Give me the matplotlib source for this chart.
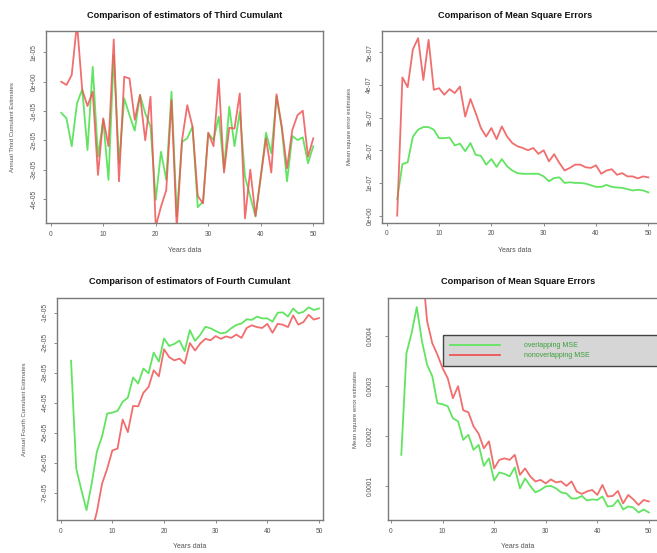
import numpy as np
import matplotlib
matplotlib.use("Agg")
import matplotlib.pyplot as plt
from matplotlib.lines import Line2D

plt.rcParams["font.family"] = ["Liberation Sans", "DejaVu Sans"]

# ============================================================
# data (x = years of data, 2..50)
# ============================================================
years = np.arange(2, 51)

# third cumulant estimates (units of 1e-5)
k3_overlap = [-1.06, -1.25, -2.2, -0.74, -0.26, -2.33, 0.51, -2.56, -1.3, -3.35,
              0.9, -2.78, -0.57, -1.14, -1.67, -0.45, -1.08, -1.53, -4.03, -2.39,
              -3.35, -0.34, -4.6, -2.05, -1.93, -1.53, -4.28, -4.09, -1.76, -1.99,
              -1.19, -3.0, -0.85, -2.2, -1.02, -3.24, -3.92, -4.6, -3.24, -1.74,
              -2.44, -0.51, -1.6, -3.4, -1.85, -1.99, -1.9, -2.78, -2.2]
k3_nonoverlap = [0.0, -0.11, 0.23, 2.0, -0.28, -0.83, -0.34, -3.18, -1.25, -2.2,
                 1.44, -3.4, 0.17, 0.11, -1.3, -0.45, -2.0, -0.51, -4.94, -4.26,
                 -3.7, -0.63, -5.0, -2.0, -0.8, -1.53, -3.9, -4.15, -1.74, -2.2,
                 0.08, -3.1, -1.57, -1.6, -0.4, -4.66, -3.0, -4.58, -3.24, -1.93,
                 -3.1, -0.43, -1.53, -2.95, -1.65, -1.14, -0.99, -2.56, -1.93]

# MSE of third cumulant estimators (units of 1e-7)
mse3_overlap = [0.5, 1.58, 1.63, 2.42, 2.63, 2.71, 2.71, 2.63, 2.37, 2.37,
                2.39, 2.15, 2.2, 1.97, 2.22, 1.86, 1.83, 1.56, 1.73, 1.49,
                1.73, 1.51, 1.38, 1.3, 1.28, 1.28, 1.28, 1.28, 1.2, 1.05,
                1.15, 1.17, 1.0, 1.02, 1.0, 1.0, 0.98, 0.93, 0.88, 0.88,
                0.94, 0.88, 0.86, 0.85, 0.81, 0.77, 0.79, 0.77, 0.71]
mse3_nonoverlap = [0.0, 4.23, 3.93, 5.09, 5.43, 4.15, 5.38, 3.85, 3.9, 3.7,
                   3.87, 3.75, 3.95, 3.03, 3.57, 3.14, 2.68, 2.42, 2.68, 2.34,
                   2.73, 2.42, 2.22, 2.12, 2.07, 2.0, 2.07, 1.89, 2.0, 1.66,
                   1.88, 1.61, 1.38, 1.46, 1.56, 1.56, 1.48, 1.46, 1.54, 1.28,
                   1.38, 1.42, 1.25, 1.3, 1.2, 1.2, 1.14, 1.2, 1.17]

# fourth cumulant estimates (units of 1e-5)
k4_overlap = [-2.6, -6.19, -6.91, -7.58, -6.69, -5.63, -5.13, -4.36, -4.33, -4.27,
              -3.97, -3.83, -3.16, -3.36, -2.86, -3.02, -2.33, -2.63, -1.86, -2.11,
              -2.04, -1.93, -2.28, -1.58, -1.94, -1.74, -1.47, -1.52, -1.61, -1.69,
              -1.66, -1.52, -1.41, -1.36, -1.22, -1.24, -1.13, -1.19, -1.19, -1.3,
              -1.0, -0.99, -1.13, -0.86, -1.02, -0.97, -0.82, -0.91, -0.86]
k4_nonoverlap = [-9.6, -9.3, -9.0, -8.7, -8.3, -7.64, -6.7, -6.2, -5.59, -5.53,
                 -4.56, -4.98, -4.11, -4.12, -3.67, -3.48, -2.92, -3.12, -2.22, -2.48,
                 -2.59, -2.53, -2.7, -2.01, -2.26, -2.03, -1.87, -1.92, -1.78, -1.87,
                 -1.79, -1.84, -1.73, -1.84, -1.51, -1.42, -1.48, -1.51, -1.37, -1.67,
                 -1.37, -1.4, -1.48, -1.09, -1.4, -1.31, -1.07, -1.23, -1.18]

# MSE of fourth cumulant estimators (units of 1e-4)
mse4_overlap = [1.62, 3.65, 4.05, 4.57, 3.89, 3.42, 3.19, 2.65, 2.63, 2.59,
                2.35, 2.29, 1.92, 2.02, 1.72, 1.82, 1.4, 1.55, 1.11, 1.27,
                1.24, 1.19, 1.37, 0.95, 1.15, 1.0, 0.87, 0.92, 0.99, 1.0,
                0.95, 0.87, 0.85, 0.75, 0.75, 0.8, 0.71, 0.73, 0.72, 0.79,
                0.59, 0.6, 0.72, 0.53, 0.59, 0.57, 0.47, 0.53, 0.47]
mse4_nonoverlap = [8.0, 7.4, 6.8, 6.1, 5.44, 4.29, 3.85, 3.62, 3.35, 3.15,
                   2.75, 2.99, 2.51, 2.47, 2.19, 2.04, 1.75, 1.89, 1.35, 1.52,
                   1.55, 1.52, 1.62, 1.22, 1.35, 1.19, 1.09, 1.12, 1.05, 1.13,
                   1.07, 1.09, 1.0, 1.09, 0.89, 0.84, 0.89, 0.92, 0.82, 1.02,
                   0.79, 0.8, 0.9, 0.65, 0.82, 0.73, 0.62, 0.72, 0.69]

x_ticks = [0, 10, 20, 30, 40, 50]
k3_ticks = [-4e-5, -3e-5, -2e-5, -1e-5, 0.0, 1e-5]
k3_labels = ["-4e-05", "-3e-05", "-2e-05", "-1e-05", "0e+00", "1e-05"]
mse3_ticks = [0.0, 1e-7, 2e-7, 3e-7, 4e-7, 5e-7]
mse3_labels = ["0e+00", "1e-07", "2e-07", "3e-07", "4e-07", "5e-07"]
k4_ticks = [-7e-5, -6e-5, -5e-5, -4e-5, -3e-5, -2e-5, -1e-5]
k4_labels = ["-7e-05", "-6e-05", "-5e-05", "-4e-05", "-3e-05", "-2e-05", "-1e-05"]
mse4_ticks = [1e-4, 2e-4, 3e-4, 4e-4]
mse4_labels = ["0.0001", "0.0002", "0.0003", "0.0004"]

GREEN = "#62e462"
RED = "#ee5555"
FRAME = "#7a7a7a"
TXT = "#555555"

W, H = 657, 553
fig = plt.figure(figsize=(W / 100, H / 100), dpi=100)


def px_axes(left, top, right, bottom):
    """axes from pixel box (y measured from top of image)"""
    return fig.add_axes([left / W, 1 - bottom / H, (right - left) / W, (bottom - top) / H])


def style(ax, box, title, ylabel, xlim, ylim, yticks, ylabels, title_y, xlab_y, ylab_x, ypad):
    left, top, right, bottom = box
    ax.set_xlim(*xlim)
    ax.set_ylim(*ylim)
    for s in ax.spines.values():
        s.set_color(FRAME)
        s.set_linewidth(1.0)
    ax.set_xticks(x_ticks)
    ax.set_yticks(yticks)
    ax.set_yticklabels(ylabels)
    ax.tick_params(direction="out", length=2.5, width=0.6, color=FRAME,
                   labelsize=4.8, labelcolor=TXT)
    ax.tick_params(axis="x", pad=3.0)
    ax.tick_params(axis="y", labelrotation=90, pad=ypad)
    for lab in ax.get_yticklabels():
        lab.set_va("center")
    cx = (left + right) / 2 if right < W else (left + 648) / 2
    fig.text(cx / W, 1 - title_y / H, title, ha="center", va="center",
             fontsize=6.6, fontweight="bold", color="#111111")
    fig.text(cx / W, 1 - xlab_y / H, "Years data", ha="center", va="center",
             fontsize=5, color=TXT)
    fig.text(ylab_x / W, 1 - (top + bottom) / 2 / H, ylabel, ha="center", va="center",
             rotation=90, fontsize=4.3, color=TXT)


# --- panel 1: third cumulant -------------------------------------------------
b1 = (46, 31, 323, 223)
ax1 = px_axes(*b1)
ax1.plot(years, np.array(k3_overlap) * 1e-5, color=GREEN, lw=1.3)
ax1.plot(years, np.array(k3_nonoverlap) * 1e-5, color=RED, lw=1.3, alpha=0.85)
style(ax1, b1, "Comparison of estimators of Third Cumulant",
      "Annual Third Cumulant Estimates", (-0.9, 51.85), (-4.82e-5, 1.73e-5),
      k3_ticks, k3_labels, 15, 250, 13, 3.5)

# --- panel 2: MSE third cumulant ---------------------------------------------
b2 = (381.7, 31, 658.6, 222.7)
ax2 = px_axes(*b2)
ax2.plot(years, np.array(mse3_overlap) * 1e-7, color=GREEN, lw=1.3)
ax2.plot(years, np.array(mse3_nonoverlap) * 1e-7, color=RED, lw=1.3, alpha=0.85)
style(ax2, b2, "Comparison of Mean Square Errors",
      "Mean square error estimates", (-0.96, 51.96), (-0.217e-7, 5.65e-7),
      mse3_ticks, mse3_labels, 15, 250, 350, 3.5)

# --- panel 3: fourth cumulant ------------------------------------------------
b3 = (57, 298.3, 322.7, 520)
ax3 = px_axes(*b3)
ax3.plot(years, np.array(k4_overlap) * 1e-5, color=GREEN, lw=1.3)
ax3.plot(years, np.array(k4_nonoverlap) * 1e-5, color=RED, lw=1.3, alpha=0.85)
style(ax3, b3, "Comparison of estimators of Fourth Cumulant",
      "Annual Fourth Cumulant Estimates", (-0.72, 50.72), (-7.91e-5, -0.52e-5),
      k4_ticks, k4_labels, 281, 546.5, 25, 3.5)

# --- panel 4: MSE fourth cumulant --------------------------------------------
b4 = (388.3, 298, 659, 520)
ax4 = px_axes(*b4)
ax4.plot(years, np.array(mse4_overlap) * 1e-4, color=GREEN, lw=1.3)
ax4.plot(years, np.array(mse4_nonoverlap) * 1e-4, color=RED, lw=1.3, alpha=0.85)
style(ax4, b4, "Comparison of Mean Square Errors",
      "Mean square error estimates", (-0.52, 51.96), (0.32e-4, 4.75e-4),
      mse4_ticks, mse4_labels, 281, 546.5, 355, 8)

handles = [Line2D([], [], color=GREEN, lw=1.3), Line2D([], [], color=RED, lw=1.3)]
leg = ax4.legend(handles, ["overlapping MSE", "nonoverlapping MSE"],
                 loc="upper left", bbox_to_anchor=(0.203, 0.679, 0.85, 0.154),
                 mode="expand", borderaxespad=0, fontsize=5, fancybox=False,
                 facecolor="#d6d6d6", edgecolor="#444444", framealpha=1,
                 handlelength=7.2, handletextpad=3.4, borderpad=1.0,
                 labelspacing=0.45, labelcolor="#3a9f3a")
leg.get_frame().set_linewidth(1.0)

fig.savefig("out.png", dpi=100, facecolor="white")
